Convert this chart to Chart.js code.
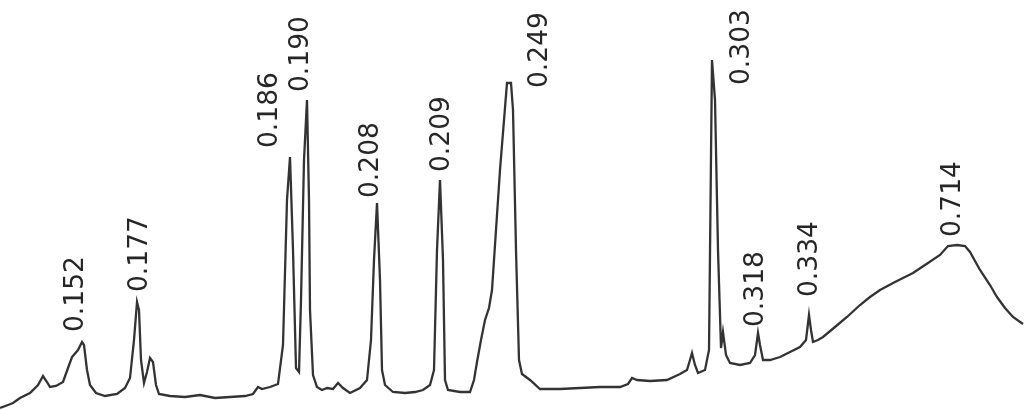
<!DOCTYPE html>
<html>
<head>
<meta charset="utf-8">
<script src="https://cdn.jsdelivr.net/npm/chart.js@4"></script>
<style>
  html,body{margin:0;padding:0;background:#fff}
  #wrap{width:1024px;height:410px;position:relative}
</style>
</head>
<body>
<div id="wrap"><canvas id="chrom"></canvas></div>
<script>
// ── trace: retention (x) vs detector signal (y) ──
var traceX=[0,8,13,20,30,38,43,47,50,56,63,68,72,78,82,84,87,90,96,105,
  117,125,130,134,137,139,141,144,147,150,153,156,159,170,185,200,215,230,245,253,
  258,262,270,278,283,287,290,293,296,299,301,304,307,309,310,313,317,322,327,333,
  338,343,350,360,367,371,374,377,380,382,385,393,405,415,423,430,434,437,440,443,
  445,448,460,470,474,477,481,485,489,492,500,507,511,513,516,519,522,530,540,560,
  580,600,620,628,632,637,650,667,680,687,690,692,695,698,705,709,712,715,718,721,
  723,726,730,740,750,755,758,760,763,770,780,790,800,806,809,811,813,818,823,835,
  847,860,870,880,895,913,925,940,948,957,965,970,980,990,997,1005,1013,1023];
var traceY=[2,5,7,12,17,25,34,28,23,24,28,42,53,60,68,65,40,25,17,14,
  16,22,32,70,108,100,50,27,38,52,48,25,16,14,13,15,12,13,14,16,
  23,21,23,26,65,210,253,160,42,38,110,250,310,210,100,35,23,20,22,21,
  27,22,17,22,30,70,150,207,130,40,25,18,17,18,20,25,40,160,230,150,
  30,20,18,18,30,48,70,90,102,120,240,327,327,300,160,50,36,30,21,21,
  22,23,23,26,32,30,29,30,36,40,50,57,45,37,40,60,350,310,160,62,
  78,55,47,45,47,55,77,65,50,50,53,58,63,70,95,80,68,70,73,83,
  93,105,113,120,128,137,145,155,164,165,164,158,140,125,113,102,93,86];

// ── peak annotations ──
var peakLabels=['0.152','0.177','0.186','0.190','0.208','0.209','0.249','0.303','0.318','0.334','0.714'];
var labelX=[76,140,270,301,371,442,540,742,756,810,953];
var labelY=[78,118,262,318,212,238,322,325,83,113,173];

var points=traceX.map(function(x,i){return {x:x,y:traceY[i]}});

var peakText={
  id:'peakText',
  afterDatasetsDraw:function(chart){
    var ctx=chart.ctx, xs=chart.scales.x, ys=chart.scales.y;
    ctx.save();
    ctx.fillStyle='#262626';
    ctx.font='26.5px "DejaVu Sans"';
    ctx.textAlign='left';
    ctx.textBaseline='middle';
    peakLabels.forEach(function(t,i){
      ctx.save();
      ctx.translate(xs.getPixelForValue(labelX[i]),ys.getPixelForValue(labelY[i]));
      ctx.rotate(-Math.PI/2);
      ctx.fillText(t,0,0);
      ctx.restore();
    });
    ctx.restore();
  }
};

new Chart(document.getElementById('chrom'),{
  type:'scatter',
  data:{datasets:[{
    data:points,showLine:true,borderColor:'#333333',borderWidth:2.3,
    pointRadius:0,tension:0,fill:false
  }]},
  options:{
    responsive:true,maintainAspectRatio:false,animation:false,
    layout:{padding:0},
    plugins:{legend:{display:false},tooltip:{enabled:false}},
    scales:{
      x:{type:'linear',min:0,max:1024,display:false},
      y:{type:'linear',min:0,max:410,display:false}
    }
  },
  plugins:[peakText]
});
</script>
</body>
</html>
